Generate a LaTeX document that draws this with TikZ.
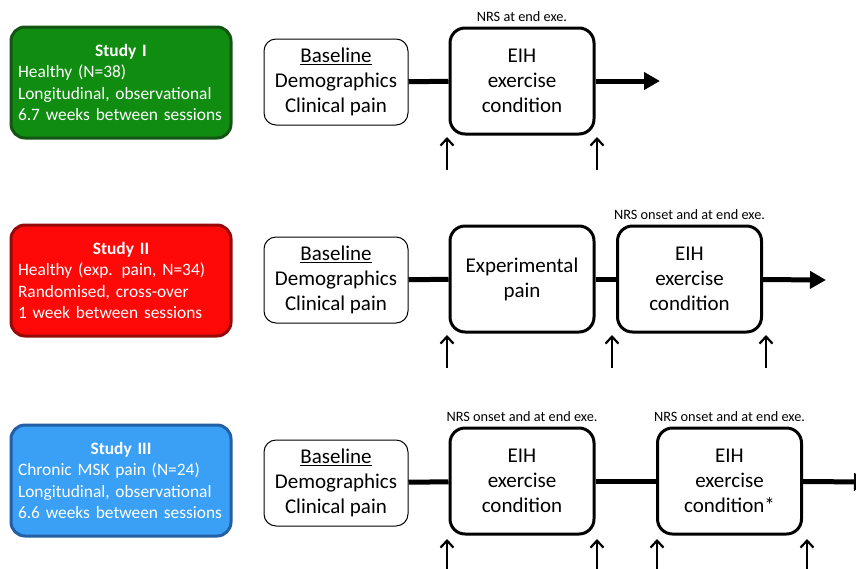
\documentclass[tikz,border=0pt]{standalone}
\usepackage{fontspec}
\setmainfont{Carlito}
\usepackage{xcolor}
\usetikzlibrary{positioning,arrows.meta}
\definecolor{studygreen}{RGB}{16,140,16}
\definecolor{studygreendk}{RGB}{20,85,20}
\definecolor{studyred}{RGB}{255,8,8}
\definecolor{studyreddk}{RGB}{150,10,10}
\definecolor{studyblue}{RGB}{58,160,245}
\definecolor{studybluedk}{RGB}{35,95,165}
\newcommand{\studytitle}[1]{\makebox[206pt]{\textbf{#1}}}

\begin{document}
\begin{tikzpicture}[x=1pt,y=-1pt,
	study/.style={draw,line width=3pt,rounded corners=14pt,text=white,align=left,
		text width=206pt,inner xsep=7pt,minimum width=220pt,minimum height=111pt,
		font=\fontsize{17.4}{21.5}\selectfont},
	basebox/.style={draw,line width=1pt,rounded corners=12pt,align=center,
		minimum width=144pt,minimum height=86pt,inner sep=0pt,
		font=\fontsize{21}{25}\selectfont},
	stepbox/.style={draw,line width=3pt,rounded corners=15pt,align=center,
		minimum width=144pt,minimum height=106pt,inner sep=0pt,
		font=\fontsize{21}{25}\selectfont},
	nrs/.style={inner sep=0pt,font=\fontsize{14.3}{16}\selectfont},
	flow/.style={line width=5pt},
	flowend/.style={line width=5pt,-{Triangle[length=16pt,width=17pt]}},
	tick/.style={line width=2.2pt,-{Straight Barb[length=7pt,width=13pt]}}]
	\useasboundingbox (0,0) rectangle (856,568);

	% Study I
	\node[study,fill=studygreen,draw=studygreendk] (study1) at (121,82.5)
		{\studytitle{Study I}\\Healthy (N=38)\\Longitudinal, observational\\6.7 weeks between sessions};
	\node[basebox] (base1) at (336,82) {\underline{Baseline}\\Demographics\\Clinical pain};
	\node[stepbox] (eih1) at (522,81) {EIH\\exercise\\condition};
	\node[nrs,above=5pt of eih1] (nrs1) {NRS at end exe.};
	\coordinate (end1) at (660,81);
	\draw[flow] (base1) -- (eih1);
	\draw[flowend] (eih1) -- (end1);
	\coordinate (t1a) at (447,170);
	\coordinate (t1b) at (597,170);
	\foreach \t in {t1a,t1b}
		\draw[tick] (\t) -- ++(0,-33);

	% Study II
	\node[study,fill=studyred,draw=studyreddk] (study2) at (121,280.5)
		{\studytitle{Study II}\\Healthy (exp. pain, N=34)\\Randomised, cross-over\\1 week between sessions};
	\node[basebox] (base2) at (336,280) {\underline{Baseline}\\Demographics\\Clinical pain};
	\node[stepbox] (exp2) at (522,279) {Experimental\\pain};
	\node[stepbox] (eih2) at (689.5,279) {EIH\\exercise\\condition};
	\node[nrs,above=5pt of eih2] (nrs2) {NRS onset and at end exe.};
	\coordinate (end2) at (826,280);
	\draw[flow] (base2) -- (exp2);
	\draw[flow] (exp2) -- (eih2);
	\draw[flowend] (eih2) -- (end2);
	\coordinate (t2a) at (447,368);
	\coordinate (t2b) at (612,368);
	\coordinate (t2c) at (766,368);
	\foreach \t in {t2a,t2b,t2c}
		\draw[tick] (\t) -- ++(0,-33);

	% Study III
	\node[study,fill=studyblue,draw=studybluedk] (study3) at (121,480.5)
		{\studytitle{Study III}\\Chronic MSK pain (N=24)\\Longitudinal, observational\\6.6 weeks between sessions};
	\node[basebox] (base3) at (336,483) {\underline{Baseline}\\Demographics\\Clinical pain};
	\node[stepbox] (eih3) at (522,481) {EIH\\exercise\\condition};
	\node[stepbox] (eih4) at (729.5,481) {EIH\\exercise\\condition*};
	\node[nrs,above=5pt of eih3] (nrs3) {NRS onset and at end exe.};
	\node[nrs,above=5pt of eih4] (nrs4) {NRS onset and at end exe.};
	\coordinate (end3) at (870,482);
	\draw[flow] (base3) -- (eih3);
	\draw[flow] (eih3) -- (eih4);
	\draw[flowend] (eih4) -- (end3);
	\coordinate (t3a) at (447,572);
	\coordinate (t3b) at (597,572);
	\coordinate (t3c) at (657,572);
	\coordinate (t3d) at (807,572);
	\foreach \t in {t3a,t3b,t3c,t3d}
		\draw[tick] (\t) -- ++(0,-33);
\end{tikzpicture}
\end{document}
